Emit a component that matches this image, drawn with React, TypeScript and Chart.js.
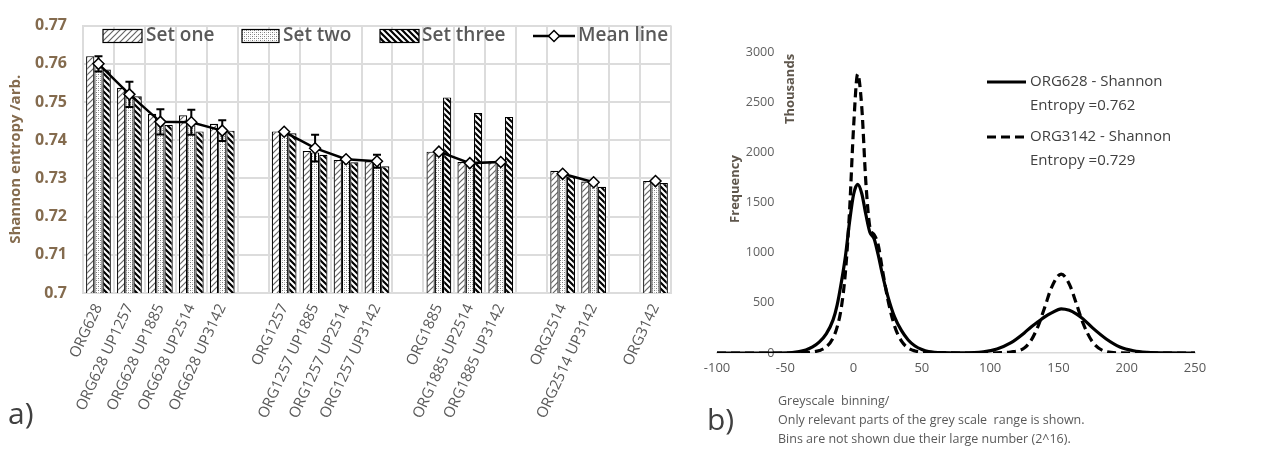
import React, { useEffect, useRef } from 'react';
import { Chart, registerables } from 'chart.js';

Chart.register(...registerables);

// ---------- Panel a) data ----------
const categories = [
  'ORG628', 'ORG628 UP1257', 'ORG628 UP1885', 'ORG628 UP2514', 'ORG628 UP3142', '',
  'ORG1257', 'ORG1257 UP1885', 'ORG1257 UP2514', 'ORG1257 UP3142', '',
  'ORG1885', 'ORG1885 UP2514', 'ORG1885 UP3142', '',
  'ORG2514', 'ORG2514 UP3142', '',
  'ORG3142',
];
const setOne = [0.762, 0.7537, 0.7469, 0.7465, 0.7443, null, 0.7423, 0.7372, 0.7348, 0.7345, null, 0.737, 0.7343, 0.7345, null, 0.732, 0.7292, null, 0.7293];
const setTwo = [0.760, 0.7528, 0.7455, 0.745, 0.7432, null, 0.742, 0.7368, 0.7345, 0.7338, null, 0.7368, 0.734, 0.7342, null, 0.7312, 0.729, null, 0.7292];
const setThree = [0.7585, 0.7515, 0.744, 0.7423, 0.7425, null, 0.7418, 0.7362, 0.7342, 0.7332, null, 0.7512, 0.7471, 0.7461, null, 0.7305, 0.7278, null, 0.7288];
const meanLine = [0.760, 0.752, 0.7448, 0.7447, 0.7425, null, 0.7422, 0.7379, 0.735, 0.7345, null, 0.737, 0.734, 0.7343, null, 0.7312, 0.729, null, 0.7293];
const meanErrors = [0.002, 0.0033, 0.0033, 0.0033, 0.0027, null, 0, 0.0035, 0, 0.0017, null, 0, 0, 0, null, 0, 0, null, 0];
const legendA = ['Set one', 'Set two', 'Set three', 'Mean line'];

// ---------- Panel b) data ----------
const greyBins = [-100, -60, -45, -35, -30, -25, -20, -15, -12, -9, -6, -3, 0, 3, 6, 9, 12, 15, 18, 21, 25, 30, 35, 40, 45, 50, 55, 65, 80, 95, 105, 115, 125, 130, 135, 140, 145, 152, 158, 163, 168, 175, 185, 195, 205, 215, 230, 250];
const org628Freq = [0, 0, 5, 30, 60, 110, 190, 330, 480, 700, 960, 1300, 1580, 1680, 1590, 1380, 1200, 1140, 980, 790, 570, 360, 225, 130, 70, 35, 15, 4, 2, 12, 40, 100, 200, 260, 310, 360, 400, 440, 425, 390, 340, 250, 140, 60, 22, 7, 1, 0];
const org3142Freq = [0, 0, 0, 4, 10, 25, 60, 150, 260, 450, 800, 1400, 2250, 2780, 2450, 1700, 1250, 1180, 1080, 840, 540, 270, 120, 50, 20, 8, 3, 1, 0, 0, 2, 10, 50, 126, 264, 456, 654, 787, 686, 498, 298, 110, 13, 1, 0, 0, 0, 0];
const legendB = [['ORG628 - Shannon', 'Entropy =0.762'], ['ORG3142 - Shannon', 'Entropy =0.729']];
const noteB = ['Greyscale  binning/', 'Only relevant parts of the grey scale  range is shown.', 'Bins are not shown due their large number (2^16).'];

const FONT = '"Open Sans", "DejaVu Sans", sans-serif';
const TAN = '#846b4e';
const GREY = '#595959';

function makePattern(ctx: CanvasRenderingContext2D, kind: string): CanvasPattern {
  const c = document.createElement('canvas');
  const s = kind === 'two' ? 4 : 6;
  c.width = s; c.height = s;
  const g = c.getContext('2d')!;
  g.fillStyle = '#fff';
  g.fillRect(0, 0, s, s);
  if (kind === 'one') {
    g.strokeStyle = '#666'; g.lineWidth = 1.2;
    g.beginPath();
    g.moveTo(0, s); g.lineTo(s, 0);
    g.moveTo(-1, 1); g.lineTo(1, -1);
    g.moveTo(s - 1, s + 1); g.lineTo(s + 1, s - 1);
    g.stroke();
  } else if (kind === 'two') {
    g.fillStyle = '#7a7a7a';
    g.fillRect(0, 0, 1, 1); g.fillRect(2, 2, 1, 1);
    g.fillStyle = '#c4c4c4';
    g.fillRect(2, 0, 1, 1); g.fillRect(0, 2, 1, 1);
  } else {
    g.strokeStyle = '#000'; g.lineWidth = 2.2;
    g.beginPath();
    g.moveTo(0, 0); g.lineTo(s, s);
    g.moveTo(-1, s - 1); g.lineTo(1, s + 1);
    g.moveTo(s - 1, -1); g.lineTo(s + 1, 1);
    g.stroke();
  }
  return ctx.createPattern(c, 'repeat')!;
}

function EntropyChart() {
  const ref = useRef<HTMLCanvasElement>(null);
  useEffect(() => {
    const ctx = ref.current!.getContext('2d')!;
    const pats = [makePattern(ctx, 'one'), makePattern(ctx, 'two'), makePattern(ctx, 'three')];

    const errorBars = {
      id: 'errorBars',
      beforeDatasetDraw(chart: any, args: any) {
        if (args.index !== 0) return;
        const meta = chart.getDatasetMeta(0);
        const ys = chart.scales.y;
        const c = chart.ctx;
        c.save();
        c.strokeStyle = '#000';
        c.lineWidth = 2;
        meanLine.forEach((m, i) => {
          const e = meanErrors[i];
          if (m == null || !e) return;
          const x = meta.data[i].x;
          const t = ys.getPixelForValue(m + e);
          const b = ys.getPixelForValue(m - e);
          c.beginPath();
          c.moveTo(x, t); c.lineTo(x, b);
          c.moveTo(x - 4, t); c.lineTo(x + 4, t);
          c.moveTo(x - 4, b); c.lineTo(x + 4, b);
          c.stroke();
        });
        c.restore();
      },
    };

    const legendPlugin = {
      id: 'legendA',
      afterDraw(chart: any) {
        const c = chart.ctx;
        c.save();
        const y = 36;
        const boxes = [[103, 39, 146], [242, 37, 283], [380, 39, 422]];
        boxes.forEach(([bx, bw, tx], i) => {
          c.fillStyle = pats[i];
          c.fillRect(bx, y - 6.5, bw, 13);
          c.strokeStyle = '#000';
          c.lineWidth = 1.2;
          c.strokeRect(bx, y - 6.5, bw, 13);
          c.fillStyle = GREY;
          c.font = `600 19px ${FONT}`;
          c.textBaseline = 'middle';
          c.fillText(legendA[i], tx, y);
        });
        c.strokeStyle = '#000';
        c.lineWidth = 2.5;
        c.beginPath(); c.moveTo(533, y); c.lineTo(575, y); c.stroke();
        c.fillStyle = '#fff';
        c.lineWidth = 1.5;
        c.beginPath();
        c.moveTo(554, y - 5.5); c.lineTo(559.5, y); c.lineTo(554, y + 5.5); c.lineTo(548.5, y); c.closePath();
        c.fill(); c.stroke();
        c.fillStyle = GREY;
        c.font = `600 19px ${FONT}`;
        c.textBaseline = 'middle';
        c.fillText(legendA[3], 578, y);
        // panel tag
        c.fillStyle = '#404040';
        c.font = `30px ${FONT}`;
        c.textBaseline = 'alphabetic';
        c.fillText('a)', 8, 424);
        c.restore();
      },
    };

    const barDs = (label: string, data: any[], i: number) => ({
      type: 'bar' as const,
      label,
      data,
      backgroundColor: pats[i],
      borderColor: '#000',
      borderWidth: 1.2,
      categoryPercentage: 0.8,
      barPercentage: 1.0,
      order: 1,
    });

    const chart = new Chart(ctx, {
      type: 'bar',
      data: {
        labels: categories,
        datasets: [
          {
            type: 'line',
            label: legendA[3],
            data: meanLine,
            borderColor: '#000',
            borderWidth: 2.5,
            pointStyle: 'rectRot',
            pointRadius: 5.5,
            pointBackgroundColor: '#fff',
            pointBorderColor: '#000',
            pointBorderWidth: 1.5,
            spanGaps: false,
            tension: 0,
            order: 0,
          } as any,
          barDs(legendA[0], setOne, 0),
          barDs(legendA[1], setTwo, 1),
          barDs(legendA[2], setThree, 2),
        ],
      },
      options: {
        responsive: false,
        animation: false,
        layout: { padding: { left: 0, right: 3, top: 15, bottom: 0 } },
        plugins: { legend: { display: false }, tooltip: { enabled: false } },
        scales: {
          x: {
            grid: { color: '#dcdcdc', lineWidth: 2, drawTicks: false, offset: true },
            border: { color: '#dcdcdc', width: 2 },
            ticks: {
              autoSkip: false,
              minRotation: 65,
              maxRotation: 65,
              padding: 8,
              color: GREY,
              font: { family: FONT, size: 15 },
            },
            afterFit: (s: any) => { s.height = 158; },
          },
          y: {
            type: 'linear',
            min: 0.7,
            max: 0.77,
            grid: { color: '#dcdcdc', lineWidth: 2, drawTicks: false },
            border: { color: '#dcdcdc', width: 2 },
            ticks: {
              stepSize: 0.01,
              padding: 16,
              color: TAN,
              font: { family: FONT, size: 16, weight: 'bold' },
              callback: (v: any) => Number(v).toFixed(2).replace(/0$/, ''),
            },
            title: {
              display: true,
              text: 'Shannon entropy /arb.',
              color: TAN,
              font: { family: FONT, size: 15, weight: 'bold' },
              padding: { top: 7, bottom: 0 },
            },
            afterFit: (s: any) => { s.width = 83; },
          },
        },
      },
      plugins: [errorBars, legendPlugin],
    });
    return () => chart.destroy();
  }, []);
  return (
    <canvas
      ref={ref}
      width={680}
      height={451}
      style={{ position: 'absolute', left: 0, top: 0, width: 680, height: 451 }}
    />
  );
}

function HistogramChart() {
  const ref = useRef<HTMLCanvasElement>(null);
  useEffect(() => {
    const ctx = ref.current!.getContext('2d')!;
    const annot = {
      id: 'annotB',
      afterDraw(chart: any) {
        const c = chart.ctx;
        c.save();
        // axis titles
        c.fillStyle = '#5e564c';
        c.font = `bold 13px ${FONT}`;
        c.textAlign = 'center';
        c.textBaseline = 'middle';
        c.save(); c.translate(45, 189); c.rotate(-Math.PI / 2); c.fillText('Frequency', 0, 0); c.restore();
        c.save(); c.translate(100, 89); c.rotate(-Math.PI / 2); c.fillText('Thousands', 0, 0); c.restore();
        // legend
        c.textAlign = 'left';
        c.strokeStyle = '#000';
        c.lineWidth = 3;
        const rows = [82, 137];
        rows.forEach((ry, i) => {
          c.setLineDash(i === 1 ? [9, 5] : []);
          c.beginPath(); c.moveTo(297, ry); c.lineTo(336, ry); c.stroke();
          c.fillStyle = '#404040';
          c.font = `15px ${FONT}`;
          c.fillText(legendB[i][0], 340, ry);
          c.fillText(legendB[i][1], 340, ry + 24);
        });
        c.setLineDash([]);
        // note under x axis
        c.fillStyle = GREY;
        c.font = `12.5px ${FONT}`;
        noteB.forEach((t, i) => c.fillText(t, 88, 401 + i * 19));
        // panel tag
        c.fillStyle = '#404040';
        c.font = `30px ${FONT}`;
        c.textBaseline = 'alphabetic';
        c.fillText('b)', 17, 430);
        c.restore();
      },
    };
    const toPts = (vals: number[]) => greyBins.map((g, i) => ({ x: g, y: vals[i] }));
    const chart = new Chart(ctx, {
      type: 'line',
      data: {
        datasets: [
          {
            label: legendB[0].join(' '),
            data: toPts(org628Freq),
            borderColor: '#000',
            borderWidth: 3.2,
            pointRadius: 0,
            cubicInterpolationMode: 'monotone',
            fill: false,
          },
          {
            label: legendB[1].join(' '),
            data: toPts(org3142Freq),
            borderColor: '#000',
            borderWidth: 3.2,
            borderDash: [9, 5],
            pointRadius: 0,
            cubicInterpolationMode: 'monotone',
            fill: false,
          },
        ],
      },
      options: {
        responsive: false,
        animation: false,
        layout: { padding: { left: 27, right: 82, top: 52, bottom: 68 } },
        plugins: { legend: { display: false }, tooltip: { enabled: false } },
        scales: {
          x: {
            type: 'linear',
            min: -100,
            max: 250,
            grid: { display: false, drawTicks: false },
            border: { color: '#d9d9d9', width: 1.5 },
            ticks: { stepSize: 50, padding: 7, color: GREY, font: { family: FONT, size: 13 } },
            afterFit: (s: any) => { s.height = 30; },
          },
          y: {
            type: 'linear',
            min: 0,
            max: 3000,
            position: { x: -58 } as any,
            grid: { display: false, drawTicks: false },
            border: { display: false },
            ticks: {
              stepSize: 500,
              padding: 0,
              color: '#5f5f5f',
              font: { family: FONT, size: 12.5 },
              callback: (v: any) => String(v),
            },
            afterFit: (s: any) => { s.width = 0; },
          },
        },
      },
      plugins: [annot],
    });
    return () => chart.destroy();
  }, []);
  return (
    <canvas
      ref={ref}
      width={587}
      height={451}
      style={{ position: 'absolute', left: 690, top: 0, width: 587, height: 451 }}
    />
  );
}

export default function App() {
  return (
    <div style={{ position: 'absolute', left: 0, top: 0, width: 1277, height: 451, background: '#fff', overflow: 'hidden' }}>
      <EntropyChart />
      <HistogramChart />
    </div>
  );
}
